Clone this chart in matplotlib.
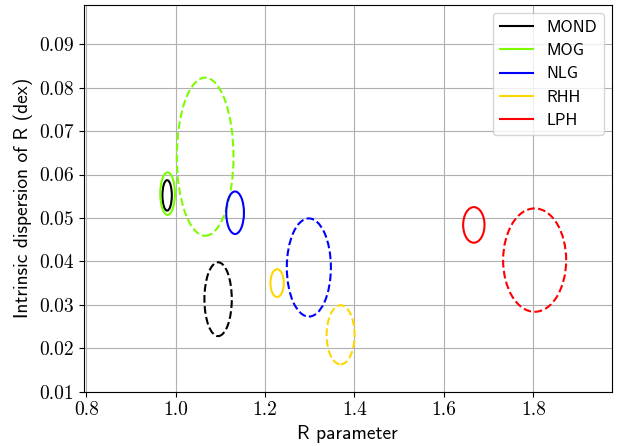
import matplotlib
matplotlib.use("Agg")
import matplotlib.pyplot as plt
from matplotlib.patches import Ellipse
from matplotlib.lines import Line2D
from matplotlib.ticker import FuncFormatter

plt.rcParams["axes.formatter.use_mathtext"] = True

models = ["MOND", "MOG", "NLG", "RHH", "LPH"]
colors = ["black", "#7cfc00", "blue", "#ffd700", "red"]

# solid contours: centre (R, sigma) and half-widths
solid_x  = [0.981, 0.982, 1.133, 1.227, 1.667]
solid_y  = [0.0552, 0.0556, 0.0512, 0.0350, 0.0484]
solid_dx = [0.0105, 0.0164, 0.0198, 0.0149, 0.0239]
solid_dy = [0.0035, 0.0049, 0.0049, 0.0032, 0.0041]

# dashed contours
dash_x  = [1.095, 1.066, 1.298, 1.369, 1.803]
dash_y  = [0.0313, 0.0641, 0.0386, 0.0231, 0.0403]
dash_dx = [0.0306, 0.0634, 0.0493, 0.0313, 0.0705]
dash_dy = [0.0085, 0.0182, 0.0113, 0.0068, 0.0119]

fig = plt.figure(figsize=(6.28, 4.46), dpi=100)
ax = fig.add_axes([0.133, 0.1217, 0.8415, 0.8678])

for i, c in enumerate(colors):
    ax.add_patch(Ellipse((solid_x[i], solid_y[i]), 2 * solid_dx[i], 2 * solid_dy[i],
                         fill=False, edgecolor=c, lw=1.5, zorder=3))
    ax.add_patch(Ellipse((dash_x[i], dash_y[i]), 2 * dash_dx[i], 2 * dash_dy[i],
                         fill=False, edgecolor=c, lw=1.5, ls="--", zorder=3))

ax.set_xlim(0.794, 1.976)
ax.set_ylim(0.01, 0.0991)
ax.set_xticks([0.8, 1.0, 1.2, 1.4, 1.6, 1.8])
ax.set_yticks([0.01, 0.02, 0.03, 0.04, 0.05, 0.06, 0.07, 0.08, 0.09])
ax.xaxis.set_major_formatter(FuncFormatter(lambda v, p: f"{v:.1f}"))
ax.yaxis.set_major_formatter(FuncFormatter(lambda v, p: f"{v:.2f}"))
for lab in ax.get_xticklabels() + ax.get_yticklabels():
    lab.set_fontfamily("cmr10")
    lab.set_fontsize(14)
ax.grid(True, color="#b0b0b0", lw=0.8)
ax.set_axisbelow(True)

ax.set_xlabel("R parameter", fontfamily="cmss10", fontsize=14)
ax.set_ylabel("Intrinsic dispersion of R (dex)", fontfamily="cmss10", fontsize=14)

handles = [Line2D([], [], color=c, lw=1.5) for c in colors]
ax.legend(handles, models, loc="upper right", prop={"family": "cmss10", "size": 12})

fig.savefig("out.png", dpi=100)
